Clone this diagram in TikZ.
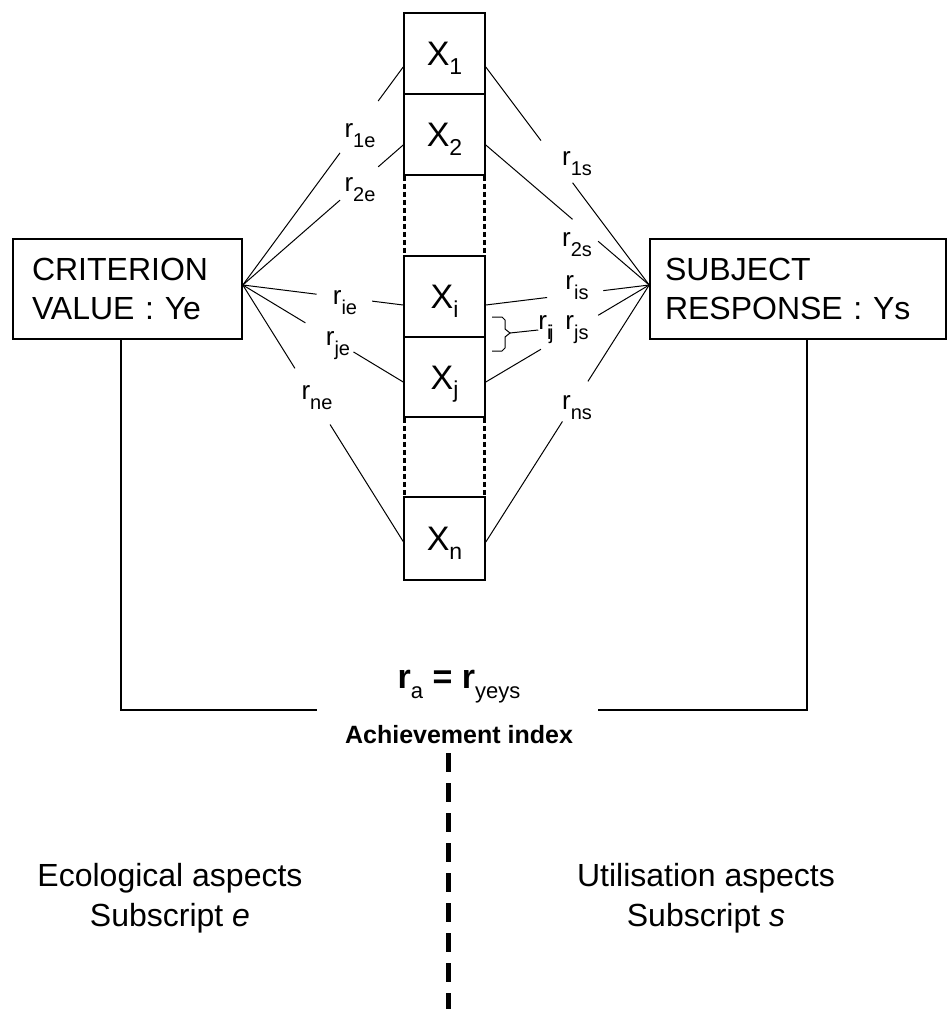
\documentclass[tikz,border=0pt]{standalone}
\usepackage{fontspec}
\setmainfont{Liberation Sans}
\usetikzlibrary{calc}
\newcommand\rlab[1]{r\raisebox{-0.38em}{\fontsize{20}{20}\selectfont #1}}
\newcommand\xlab[1]{X\raisebox{-0.25em}{\fontsize{23}{23}\selectfont #1}}
\tikzset{
  bigbox/.style={draw, line width=1.6pt, inner ysep=0pt, align=left,
    minimum height=100pt, font=\fontsize{32}{39}\selectfont},
  xbox/.style={draw, line width=1.6pt, minimum width=81pt, minimum height=81pt,
    inner sep=0pt, text height=24pt, text depth=0pt, font=\fontsize{34}{34}\selectfont},
  conn/.style={line width=1pt},
  frame/.style={line width=1.5pt},
  gapside/.style={line width=3pt, dash pattern=on 5pt off 3pt},
  rl/.style={inner sep=0pt, font=\fontsize{26}{26}\selectfont},
  aspect/.style={align=center, inner sep=0pt, font=\fontsize{32}{40}\selectfont},
  divider/.style={line width=5pt, dash pattern=on 19pt off 11pt},
}
\begin{document}
\begin{tikzpicture}[x=1pt,y=-1pt]
\useasboundingbox (0,0) rectangle (948,1009);

% main boxes
\node[bigbox, inner xsep=19pt, text width=191pt] (crit) at (127.5,289) {CRITERION\\VALUE : Ye};
\node[bigbox, inner xsep=15pt, text width=266pt] (subj) at (798,289) {SUBJECT\\RESPONSE : Ys};

% cue column
\node[xbox] (x1) at (444.5,53.5) {\xlab{1}};
\node[xbox] (x2) at (444.5,134.5) {\xlab{2}};
\node[xbox] (xi) at (444.5,296.5) {\xlab{i}};
\node[xbox, minimum height=80pt] (xj) at (444.5,377) {\xlab{j}};
\node[xbox, minimum height=83pt] (xn) at (444.5,538.5) {\xlab{n}};
\draw[gapside] ([xshift=1pt]x2.south west) -- ([xshift=1pt]xi.north west);
\draw[gapside] ([xshift=-1pt]x2.south east) -- ([xshift=-1pt]xi.north east);
\draw[gapside] ([xshift=1pt]xj.south west) -- ([xshift=1pt]xn.north west);
\draw[gapside] ([xshift=-1pt]xj.south east) -- ([xshift=-1pt]xn.north east);

% fan points and attachment points
\coordinate (lf) at ([yshift=4pt]crit.east);
\coordinate (rf) at ([yshift=4pt]subj.west);
\coordinate (x1w) at ([yshift=-13.5pt]x1.west);
\coordinate (x2w) at ([yshift=-10.5pt]x2.west);
\coordinate (xiw) at ([yshift=-8.5pt]xi.west);
\coordinate (xjw) at ([yshift=-5pt]xj.west);
\coordinate (xnw) at ([yshift=-3pt]xn.west);
\coordinate (x1e) at ([yshift=-13.5pt]x1.east);
\coordinate (x2e) at ([yshift=-10.5pt]x2.east);
\coordinate (xie) at ([yshift=-8.5pt]xi.east);
\coordinate (xje) at ([yshift=-5pt]xj.east);
\coordinate (xne) at ([yshift=-3.5pt]xn.east);

% left connectors
\draw[conn] (lf) -- ($(lf)!0.606!(x1w)$) ($(lf)!0.844!(x1w)$) -- (x1w);
\draw[conn] (lf) -- ($(lf)!0.606!(x2w)$) ($(lf)!0.844!(x2w)$) -- (x2w);
\draw[conn] (lf) -- ($(lf)!0.46!(xiw)$) ($(lf)!0.806!(xiw)$) -- (xiw);
\draw[conn] (lf) -- ($(lf)!0.39!(xjw)$) ($(lf)!0.69!(xjw)$) -- (xjw);
\draw[conn] (lf) -- ($(lf)!0.325!(xnw)$) ($(lf)!0.544!(xnw)$) -- (xnw);
\node[rl] (r1e) at (360,136) {\rlab{1e}};
\node[rl] (r2e) at (360,190) {\rlab{2e}};
\node[rl] (rie) at (345,303) {\rlab{ie}};
\node[rl] (rje) at (338,346) {\rlab{je}};
\node[rl] (rne) at (317,398) {\rlab{ne}};

% right connectors
\draw[conn] (x1e) -- ($(x1e)!0.3375!(rf)$) ($(x1e)!0.531!(rf)$) -- (rf);
\draw[conn] (x2e) -- ($(x2e)!0.531!(rf)$) ($(x2e)!0.6875!(rf)$) -- (rf);
\draw[conn] (xie) -- ($(xie)!0.375!(rf)$) ($(xie)!0.719!(rf)$) -- (rf);
\draw[conn] (xje) -- ($(xje)!0.3375!(rf)$) ($(xje)!0.6875!(rf)$) -- (rf);
\draw[conn] (xne) -- ($(xne)!0.469!(rf)$) ($(xne)!0.625!(rf)$) -- (rf);
\node[rl] (r1s) at (577,164) {\rlab{1s}};
\node[rl] (r2s) at (577,245) {\rlab{2s}};
\node[rl] (ris) at (577,288) {\rlab{is}};
\node[rl] (rjs) at (577,330) {\rlab{js}};
\node[rl] (rns) at (577,408) {\rlab{ns}};

% inter-cue brace
\draw[conn] (492,317) -- (502,317) -- (505,320) -- (505,329) -- (510,333)
  -- (505,337) -- (505,348) -- (502,351) -- (492,351);
\coordinate (btip) at (510,333);
\node[rl] (rij) at (546,330) {r\raisebox{-0.38em}{\fontsize{20}{20}\selectfont i\kern-0.12em j}};
\draw[conn] (btip) -- (rij.west);

% achievement link
\node[inner sep=0pt, font=\fontsize{34}{34}\selectfont] (ra) at (459,687)
  {\textbf{r}\raisebox{-0.3em}{\fontsize{22}{22}\selectfont a} \textbf{=} \textbf{r}\raisebox{-0.3em}{\fontsize{22}{22}\selectfont yeys}};
\node[inner sep=0pt, font=\fontsize{25}{25}\selectfont\bfseries] (ach) at (459,735) {Achievement index};
\coordinate (lx) at (121,0);
\coordinate (rx) at (807,0);
\coordinate (hl) at (317,710);
\coordinate (hr) at (598,710);
\draw[frame] (crit.south -| lx) |- (hl);
\draw[frame] (hr) -| (subj.south -| rx);

% divider
\coordinate (dtop) at (448,753);
\coordinate (dbot) at (448,1012);
\draw[divider] (dtop) -- (dbot);

% aspects
\node[aspect] (eco) at (170,898) {Ecological aspects\\Subscript \textit{e}};
\node[aspect] (uti) at (706,898) {Utilisation aspects\\Subscript \textit{s}};
\end{tikzpicture}
\end{document}
